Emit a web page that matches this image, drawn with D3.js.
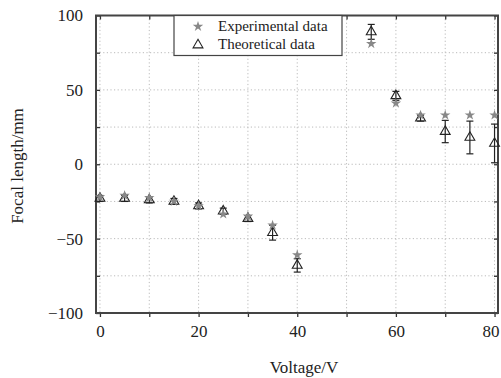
<!DOCTYPE html>
<html>
<head>
<meta charset="utf-8">
<script src="https://cdn.jsdelivr.net/npm/d3@7"></script>
<style>
  body { margin: 0; background: #fff; }
  text { font-family: "Liberation Serif", "DejaVu Serif", serif; fill: #222; }
</style>
</head>
<body>
<svg id="chart" width="501" height="378"></svg>
<script>
// values
const voltage = [0, 5, 10, 15, 20, 25, 30, 35, 40, 55, 60, 65, 70, 75, 80];
const experimental = [-22, -21, -22.5, -25, -28, -33.5, -35, -41, -61, 81, 41, 33, 33, 33, 33];
const theoretical = [-23, -23, -24, -25, -28, -31.5, -36.5, -46, -68, 89, 46, 31, 22, 18, 14];
const theoError = [2, 2, 2, 2, 2, 2, 2, 5, 4.5, 5, 3, 2, 7.5, 11, 13];
const xTickLabels = [0, 20, 40, 60, 80];
const yTickLabels = [-100, -50, 0, 50, 100];
const seriesNames = ['Experimental data', 'Theoretical data'];

const svg = d3.select('#chart');
const plotL = 96, plotR = 498, plotT = 15.5, plotB = 313;

const x = d3.scaleLinear().domain([-0.8, 80.7]).range([plotL, plotR]);
const y = d3.scaleLinear().domain([-100, 100]).range([plotB, plotT]);

// dotted grid
const grid = svg.append('g').attr('stroke', '#bbb').attr('stroke-width', 1).attr('stroke-dasharray', '1.2,2.4');
grid.selectAll('line.gx').data(d3.range(0, 81, 10)).enter().append('line')
  .attr('x1', d => x(d)).attr('x2', d => x(d)).attr('y1', plotT).attr('y2', plotB);
grid.selectAll('line.gy').data(d3.range(-75, 100, 25)).enter().append('line')
  .attr('y1', d => y(d)).attr('y2', d => y(d)).attr('x1', plotL).attr('x2', plotR);

// axes
const xAxis = svg.append('g').attr('transform', 'translate(0,' + plotB + ')')
  .call(d3.axisBottom(x).tickValues(d3.range(0, 81, 10)).tickSize(4).tickFormat(''));
const xLabels = svg.append('g').attr('transform', 'translate(0,' + plotB + ')')
  .call(d3.axisBottom(x).tickValues(xTickLabels).tickSize(0).tickPadding(12).tickFormat(d3.format('d')));
const xTop = svg.append('g').attr('transform', 'translate(0,' + plotT + ')')
  .call(d3.axisBottom(x).tickValues(d3.range(0, 81, 10)).tickSize(4).tickFormat(''));
const yAxis = svg.append('g').attr('transform', 'translate(' + plotL + ',0)')
  .call(d3.axisRight(y).tickValues(d3.range(-100, 101, 25)).tickSize(4).tickFormat(''));
const yLabels = svg.append('g').attr('transform', 'translate(' + plotL + ',0)')
  .call(d3.axisLeft(y).tickValues(yTickLabels).tickSize(0).tickPadding(13).tickFormat(d => d < 0 ? '\u2212' + Math.abs(d) : d));
const yRight = svg.append('g').attr('transform', 'translate(' + plotR + ',0)')
  .call(d3.axisLeft(y).tickValues(d3.range(-100, 101, 25)).tickSize(4).tickFormat(''));

[xAxis, xLabels, xTop, yAxis, yLabels, yRight].forEach(g => {
  g.select('.domain').remove();
  g.selectAll('line').attr('stroke', '#333').attr('stroke-width', 1.3);
  g.selectAll('text').attr('font-size', 17).attr('fill', '#222')
    .attr('font-family', '"Liberation Serif", serif');
});
// last label sits at the window edge, nudge it in
xLabels.selectAll('text').filter(d => d === 80).attr('dx', -4);

svg.append('rect').attr('x', plotL).attr('y', plotT).attr('width', plotR - plotL).attr('height', plotB - plotT)
  .attr('fill', 'none').attr('stroke', '#444').attr('stroke-width', 2);

// axis titles
svg.append('text').attr('x', 304).attr('y', 373).attr('text-anchor', 'middle').attr('font-size', 17).text('Voltage/V');
svg.append('text').attr('transform', 'translate(23,166) rotate(-90)').attr('text-anchor', 'middle')
  .attr('font-size', 17).text('Focal length/mm');

const pts = voltage.map((v, i) => ({ v: v, e: experimental[i], t: theoretical[i], err: theoError[i] }));

const star = d3.symbol().type(d3.symbolStar).size(34);
const tri = d3.symbol().type(d3.symbolTriangle).size(42);

// error bars on the theoretical values
const eb = svg.append('g').attr('stroke', '#222').attr('stroke-width', 1.2);
eb.selectAll('line.v').data(pts).enter().append('line')
  .attr('x1', d => x(d.v)).attr('x2', d => x(d.v))
  .attr('y1', d => y(d.t - d.err)).attr('y2', d => y(d.t + d.err));
eb.selectAll('line.lo').data(pts).enter().append('line')
  .attr('x1', d => x(d.v) - 3.5).attr('x2', d => x(d.v) + 3.5)
  .attr('y1', d => y(d.t - d.err)).attr('y2', d => y(d.t - d.err));
eb.selectAll('line.hi').data(pts).enter().append('line')
  .attr('x1', d => x(d.v) - 3.5).attr('x2', d => x(d.v) + 3.5)
  .attr('y1', d => y(d.t + d.err)).attr('y2', d => y(d.t + d.err));

svg.append('g').selectAll('path').data(pts).enter().append('path')
  .attr('d', tri).attr('transform', d => 'translate(' + x(d.v) + ',' + y(d.t) + ')')
  .attr('fill', 'none').attr('stroke', '#222').attr('stroke-width', 1.1);

svg.append('g').selectAll('path').data(pts).enter().append('path')
  .attr('d', star).attr('transform', d => 'translate(' + x(d.v) + ',' + y(d.e) + ')')
  .attr('fill', '#888').attr('stroke', 'none');

// legend
const lg = svg.append('g');
lg.append('rect').attr('x', 174).attr('y', plotT).attr('width', 168).attr('height', 40)
  .attr('fill', '#fff').attr('stroke', '#444').attr('stroke-width', 1.2);
lg.append('path').attr('d', star).attr('transform', 'translate(198,26.5)').attr('fill', '#888');
lg.append('path').attr('d', tri).attr('transform', 'translate(198,45)')
  .attr('fill', 'none').attr('stroke', '#222').attr('stroke-width', 1.1);
lg.selectAll('text').data(seriesNames).enter().append('text')
  .attr('x', 218).attr('y', (d, i) => 31 + i * 18).attr('font-size', 15).text(d => d);
</script>
</body>
</html>
